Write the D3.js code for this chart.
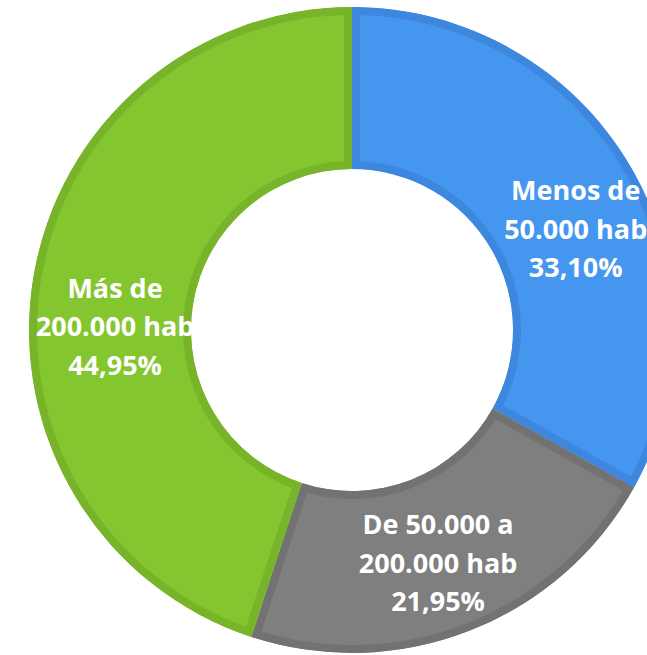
<!DOCTYPE html>
<html>
<head>
<meta charset="utf-8">
<script src="https://cdn.jsdelivr.net/npm/d3@7"></script>
<style>
  html, body { margin: 0; padding: 0; background: #fff; overflow: hidden; }
  svg { display: block; }
</style>
</head>
<body>
<div id="chart"></div>
<script>
// slice data (clockwise from 12 o'clock)
const categories = ["Menos de 50.000 hab", "De 50.000 a 200.000 hab", "Más de 200.000 hab"];
const labelLines = [["Menos de", "50.000 hab"], ["De 50.000 a", "200.000 hab"], ["Más de", "200.000 hab"]];
const shares = [33.10, 21.95, 44.95];
const shareText = ["33,10%", "21,95%", "44,95%"];

const fills = ["#4596ef", "#7f7f7f", "#84c62f"];
const borders = ["#3d88de", "#727272", "#77b42a"];
// small nudges for the data labels, as the spreadsheet placed them
const labelShift = [[15, 22], [-2, 8], [2, 35]];

const width = 647, height = 655;
const cx = 352, cy = 330;
const outerR = 323, innerR = 161;
const borderW = 8;

const svg = d3.select("#chart").append("svg")
  .attr("width", width)
  .attr("height", height);

const g = svg.append("g").attr("transform", `translate(${cx},${cy})`);

const pie = d3.pie().sort(null).value(d => d);
const arcs = pie(shares);

const arc = d3.arc().innerRadius(innerR).outerRadius(outerR);
const labelArc = d3.arc().innerRadius((innerR + outerR) / 2).outerRadius((innerR + outerR) / 2);

// clip each slice to itself so the border sits inside the slice
const defs = svg.append("defs");
defs.selectAll("clipPath")
  .data(arcs)
  .join("clipPath")
  .attr("id", (d, i) => "slice-clip-" + i)
  .append("path")
  .attr("d", arc);

g.selectAll("path.slice")
  .data(arcs)
  .join("path")
  .attr("class", "slice")
  .attr("d", arc)
  .attr("fill", (d, i) => fills[i])
  .attr("stroke", (d, i) => borders[i])
  .attr("stroke-width", borderW * 2)
  .attr("stroke-linejoin", "miter")
  .attr("clip-path", (d, i) => `url(#slice-clip-${i})`);

const lineH = 38.5;
const labels = g.selectAll("text.label")
  .data(arcs)
  .join("text")
  .attr("class", "label")
  .attr("transform", (d, i) => {
    const [x, y] = labelArc.centroid(d);
    return `translate(${x + labelShift[i][0]},${y + labelShift[i][1]})`;
  })
  .attr("text-anchor", "middle")
  .attr("fill", "#fff")
  .style("font-family", "'Open Sans', 'DejaVu Sans', sans-serif")
  .style("font-weight", "bold")
  .style("font-size", "27px");

labels.each(function(d, i) {
  const lines = labelLines[i].concat([shareText[i]]);
  d3.select(this).selectAll("tspan")
    .data(lines)
    .join("tspan")
    .attr("x", 0)
    .attr("y", (t, j) => (j - 1) * lineH)
    .attr("dy", "0.35em")
    .text(t => t);
});
</script>
</body>
</html>
